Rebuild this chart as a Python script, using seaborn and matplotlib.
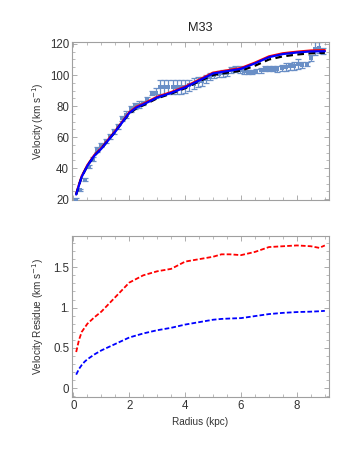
import numpy as np
import pandas as pd
import matplotlib
matplotlib.use("Agg")
import matplotlib.pyplot as plt
from matplotlib.ticker import MultipleLocator
import seaborn as sns

radius_obs = [0.1, 0.25, 0.4, 0.55, 0.7, 0.85, 1.0, 1.15, 1.3, 1.45, 1.6, 1.75, 1.9, 2.05,
              2.2, 2.35, 2.5, 2.65, 2.8, 2.95, 3.1, 3.25, 3.4, 3.55, 3.7, 3.85, 4.0, 4.15,
              4.3, 4.45, 4.6, 4.75, 4.9, 5.05, 5.2, 5.35, 5.5, 5.65, 5.8, 5.95, 6.1, 6.25,
              6.4, 6.55, 6.7, 6.85, 7.0, 7.15, 7.3, 7.45, 7.6, 7.75, 7.9, 8.05, 8.2, 8.35,
              8.5, 8.65, 8.8, 8.95]
vel_obs = [19.8, 26, 32.5, 41, 46, 52, 55, 57.5, 60.5, 63.5, 67, 72, 74.5, 78,
           80, 81, 82, 84.5, 88.5, 88.5, 92, 92, 92, 92, 92, 92, 92.5, 93.5,
           94.5, 95.5, 96, 97.5, 99, 100, 100.5, 101, 101.5, 103, 104, 103.5, 102.5, 102,
           102, 102.5, 103, 104, 104, 104, 104, 104.5, 105, 105.5, 106, 107, 106.5, 107,
           111, 117, 117.5, 115.5]
vel_err = [0.8, 0.8, 1, 1.2, 1.5, 1.5, 1.5, 1.5, 1.5, 1.5, 1.5, 1.8, 2, 2,
           2, 2, 1.5, 1.5, 1.5, 3, 4.5, 4.5, 4.5, 4.5, 4.5, 4.5, 4, 3.5,
           3.5, 3.5, 3, 2.5, 2, 2, 2, 2, 2, 2, 2, 2, 2, 1.5,
           1.5, 1.5, 1.5, 1.5, 1.5, 1.5, 2, 2, 2.5, 2.5, 2.5, 3, 2, 1.5,
           2, 4, 3.5, 2]

# model curves
radius_mod = [0.1, 0.2, 0.3, 0.43, 0.5, 0.75, 1.0, 1.25, 1.5, 1.75, 2.0, 2.25, 2.5, 3.0,
              3.5, 4.0, 4.5, 5.0, 5.5, 6.0, 6.5, 7.0, 7.5, 8.0, 8.5, 9.0]
vel_red = [23.5, 29.5, 35, 39.5, 42, 48.5, 53, 58.5, 64, 70, 76, 79.5, 81.5, 86,
           89, 92.5, 97, 101.5, 103, 104.5, 108, 112, 114, 115, 115.8, 116]
vel_blue = [23, 29, 34.5, 39, 41.5, 48, 52.5, 58, 63.5, 69.5, 75.5, 79, 81, 85.5,
            88.5, 92, 96.5, 101, 102.5, 104, 107.5, 111.5, 113.5, 114.5, 115.2, 115.3]
vel_black = [23, 29, 34.5, 39, 41.5, 48, 52.5, 58, 63.5, 69.5, 75, 78.5, 80.5, 85,
             88, 91.5, 96, 100, 101.5, 102.8, 106, 110, 112, 113.2, 114, 114.3]

# velocity residues
radius_res = [0.1, 0.2, 0.3, 0.4, 0.5, 0.75, 1.0, 1.5, 2.0, 2.5, 3.0, 3.5, 4.0, 4.5,
              5.0, 5.3, 5.6, 6.0, 6.5, 7.0, 7.5, 8.0, 8.5, 8.8, 9.0]
res_red = [0.45, 0.6, 0.7, 0.75, 0.8, 0.88, 0.95, 1.13, 1.31, 1.4, 1.45, 1.48, 1.57, 1.6,
           1.63, 1.66, 1.66, 1.65, 1.69, 1.75, 1.76, 1.77, 1.76, 1.74, 1.77]
res_blue = [0.17, 0.24, 0.29, 0.33, 0.36, 0.42, 0.47, 0.55, 0.63, 0.68, 0.72, 0.75, 0.79, 0.82,
            0.85, 0.86, 0.865, 0.87, 0.895, 0.92, 0.935, 0.945, 0.95, 0.955, 0.96]

sns.set_style("ticks")
plt.rcParams['font.family'] = ['Liberation Sans', 'DejaVu Sans']

frame_col = '#a0a0a0'
text_col = '#333333'
data_col = '#6a8fc6'

fig = plt.figure(figsize=(3.6, 4.49), dpi=100)
ax1 = fig.add_axes([0.2, 0.5546, 0.714, 0.352])
ax2 = fig.add_axes([0.2, 0.1158, 0.714, 0.3586])

obs = pd.DataFrame({'r': radius_obs, 'v': vel_obs, 'e': vel_err})
mod = pd.DataFrame({'r': radius_mod, 'red': vel_red, 'blue': vel_blue, 'black': vel_black})
res = pd.DataFrame({'r': radius_res, 'red': res_red, 'blue': res_blue})

ax1.errorbar(obs['r'], obs['v'], yerr=obs['e'], fmt='none', ecolor=data_col,
             elinewidth=0.9, capsize=2, capthick=0.9, zorder=2)
sns.scatterplot(data=obs, x='r', y='v', ax=ax1, color=data_col, marker='s', s=9,
                edgecolor=data_col, linewidth=0, zorder=3)
sns.lineplot(data=mod, x='r', y='red', ax=ax1, color='red', lw=1.6, zorder=4)
sns.lineplot(data=mod, x='r', y='black', ax=ax1, color='black', lw=1.6,
             linestyle=(0, (3, 2)), zorder=5)
sns.lineplot(data=mod, x='r', y='blue', ax=ax1, color='blue', lw=1.6, zorder=6)

sns.lineplot(data=res, x='r', y='red', ax=ax2, color='red', lw=1.3, linestyle=(0, (2.6, 1.2)))
sns.lineplot(data=res, x='r', y='blue', ax=ax2, color='blue', lw=1.3, linestyle=(0, (2.6, 1.2)))

ax1.set_xlim(-0.05, 9.15)
ax1.set_ylim(19.5, 121.3)
ax2.set_xlim(-0.05, 9.15)
ax2.set_ylim(-0.107, 1.887)

ax1.yaxis.set_major_locator(MultipleLocator(20))
ax1.yaxis.set_minor_locator(MultipleLocator(5))
ax1.xaxis.set_major_locator(MultipleLocator(2))
ax1.xaxis.set_minor_locator(MultipleLocator(0.5))
ax1.set_xticklabels([])
ax2.xaxis.set_major_locator(MultipleLocator(2))
ax2.xaxis.set_minor_locator(MultipleLocator(0.5))
ax2.yaxis.set_major_locator(MultipleLocator(0.5))
ax2.yaxis.set_minor_locator(MultipleLocator(0.1))
ax2.set_yticks([0, 0.5, 1.0, 1.5])
ax2.set_yticklabels(['0', '0.5', '1.', '1.5'])
ax2.set_xticks([0, 2, 4, 6, 8])
ax2.set_xticklabels(['0', '2', '4', '6', '8'])

for ax in (ax1, ax2):
    for sp in ax.spines.values():
        sp.set_color(frame_col)
        sp.set_linewidth(0.8)
        sp.set_visible(True)
    ax.tick_params(which='both', direction='in', top=True, right=True, color=frame_col,
                   labelsize=8.3, labelcolor=text_col, pad=2)
    ax.tick_params(which='major', length=3.5, width=0.6)
    ax.tick_params(which='minor', length=2, width=0.5)

ax1.set_xlabel('')
ax1.set_ylabel('Velocity (km s$^{-1}$)', fontsize=7.2, color=text_col, labelpad=3)
ax1.set_title('M33', fontsize=9.2, color='#222222', pad=8)
ax2.set_xlabel('Radius (kpc)', fontsize=7.2, color=text_col, labelpad=4)
ax2.set_ylabel('Velocity Residue (km s$^{-1}$)', fontsize=7.2, color=text_col, labelpad=5)

fig.savefig('out.png', dpi=100)
